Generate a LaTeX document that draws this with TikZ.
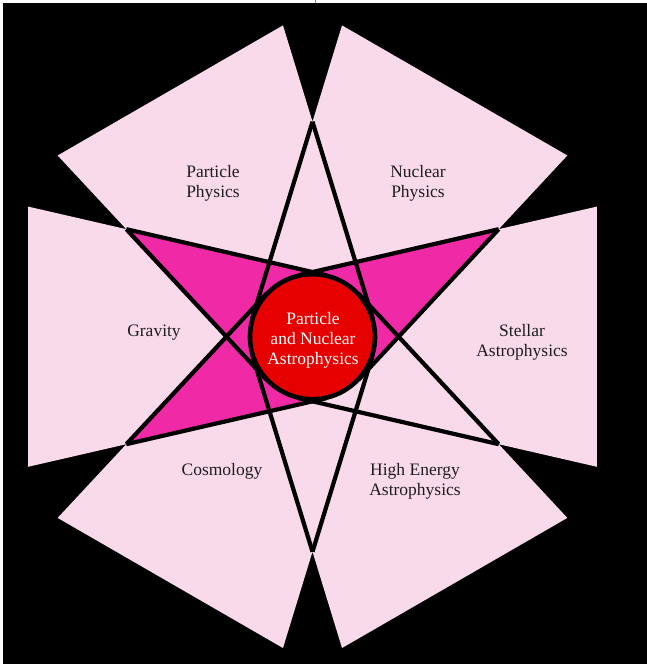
\documentclass[tikz,border=0pt]{standalone}
\usepackage{fontspec}
\setmainfont{Liberation Serif}
\usetikzlibrary{calc}
\definecolor{softpink}{HTML}{F9DAEA}
\definecolor{hotpink}{HTML}{F02AA6}
\definecolor{corered}{HTML}{E60000}
\definecolor{inkgray}{HTML}{1E1E1E}
\tikzset{
  starline/.style={line width=4.2pt},
  sectorlabel/.style={font=\fontsize{17.5}{20}\selectfont, text=inkgray, align=center, inner sep=0pt},
  corelabel/.style={font=\fontsize{17.5}{20}\selectfont, text=white, align=center, inner sep=0pt},
}
\begin{document}
\begin{tikzpicture}[x=1pt,y=1pt]
\useasboundingbox (0,0) rectangle (647,664);
\fill[black] (3,0) rectangle (647,660.5);
\draw[gray, line width=1pt] (315,660.5) -- (315,664);

\coordinate (C) at (312.5,327.3);
\pgfmathsetmacro{\Rhex}{215}
\pgfmathsetmacro{\rcirc}{63}
\pgfmathsetmacro{\tang}{acos(\rcirc/\Rhex)}
\foreach \k/\ang in {0/90,1/30,2/-30,3/-90,4/-150,5/150}{
  \coordinate (H\k) at ($(C)+(\ang:\Rhex)$);
  \coordinate (P\k) at ($(C)+(\ang+\tang:\rcirc)$);
  \coordinate (M\k) at ($(C)+(\ang-\tang:\rcirc)$);
  \coordinate (A\k) at ($(M\k)!1.49!(H\k)$);
  \coordinate (B\k) at ($(P\k)!1.49!(H\k)$);
}

% pink sectors (union)
\fill[softpink] (A2) -- (B1) -- (H1) -- (A1) -- (B0) -- (H0) -- (A0) -- (B5) -- (H5) -- (A5)
  -- (B4) -- (H4) -- (A4) -- (B3) -- (H3) -- (A3) -- (B2) -- (H2) -- cycle;

% magenta cones
\foreach \k in {1,4,5}{
  \fill[hotpink] (H\k) -- (P\k) -- (C) -- (M\k) -- cycle;
}

% star lines
\foreach \k in {0,1,2,3,4,5}{
  \draw[starline] (H\k) -- (P\k);
  \draw[starline] (H\k) -- (M\k);
}

% core circle
\node[circle, draw=black, line width=4.6pt, fill=corered, minimum size=125pt, inner sep=0pt] (core) at (C) {};
\node[corelabel] (coretext) at (313,323.6) {Particle\\and Nuclear\\Astrophysics};

% labels
\node[sectorlabel] (pp) at (213,480.4) {Particle\\Physics};
\node[sectorlabel] (np) at (418,480.4) {Nuclear\\Physics};
\node[sectorlabel] (grav) at (154,331.5) {Gravity};
\node[sectorlabel] (stellar) at (522,321.6) {Stellar\\Astrophysics};
\node[sectorlabel] (cosmo) at (222,193) {Cosmology};
\node[sectorlabel] (he) at (415,182.5) {High Energy\\Astrophysics};
\end{tikzpicture}
\end{document}
